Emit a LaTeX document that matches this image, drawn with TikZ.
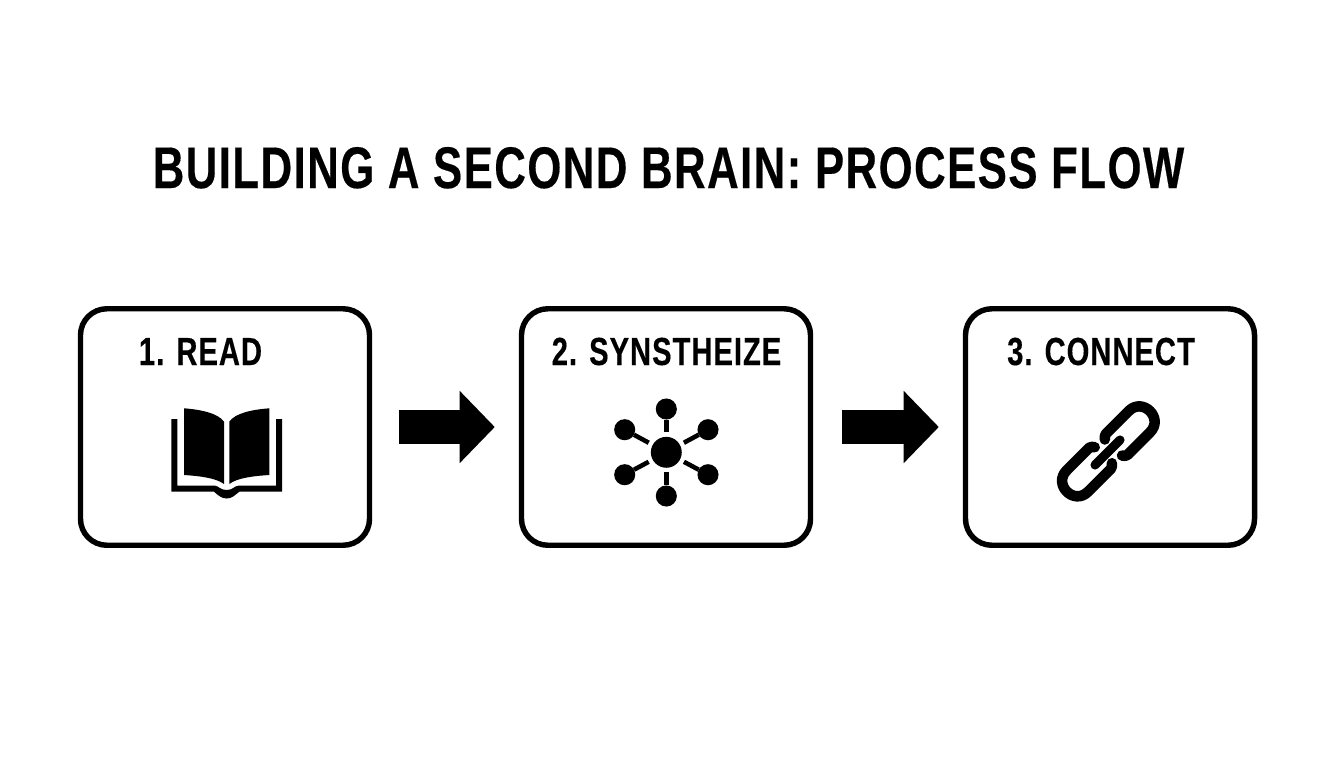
\documentclass[tikz,border=0pt]{standalone}
\usepackage{fontspec}
\setmainfont{Liberation Sans}[FakeStretch=0.745,LetterSpace=2.5,FakeBold=0.3]
\usetikzlibrary{arrows.meta}
\tikzset{
	% the three rounded frames
	stepbox/.style={draw=black,line width=3.1pt,rounded corners=15pt,outer sep=0pt,inner sep=0pt,
		minimum width=164.5pt,minimum height=134.6pt},
	steplabel/.style={anchor=base,inner sep=0pt,font=\bfseries\fontsize{22.3}{24}\selectfont},
	% block arrow between two frames
	flowarrow/.style={line width=19pt,-{Triangle[length=20pt,width=40pt]},shorten >=15.2pt},
	hubdot/.style={circle,fill=black,inner sep=0pt,outer sep=0pt,minimum size=#1},
	spoke/.style={line width=2.6pt,shorten <=2.6pt},
	chainlink/.style={line width=6pt,line cap=round,line join=round},
}
\begin{document}
\begin{tikzpicture}[x=0.02cm,y=-0.02cm]
	\useasboundingbox (0,0) rectangle (1344,768);
	\node[anchor=base,inner sep=0pt,font=\bfseries\fontsize{33.4}{36}\selectfont] (title) at (668.5,188) {BUILDING A SECOND BRAIN: PROCESS FLOW};
	
	\node[stepbox] (read) at (225,427) {};
	\node[stepbox] (synth) at (666,427) {};
	\node[stepbox] (connect) at (1110,427) {};
	\node[steplabel] (readlabel) at (200.5,365) {1. READ};
	\node[steplabel] (synthlabel) at (666.5,365) {2. SYNSTHEIZE};
	\node[steplabel] (connectlabel) at (1101,365) {3. CONNECT};
	
	\draw[flowarrow,shorten <=16.6pt] (read) -- (synth);
	\draw[flowarrow,shorten <=17.7pt] (synth) -- (connect);
	
	% book
	\fill (184,408.3) .. controls (200,409.5) and (218,413) .. (224,421.7) -- (224,484)
		.. controls (216,478) and (200,476) .. (184,475) -- cycle;
	\fill (269.3,408.3) .. controls (253,409.5) and (235,413) .. (229.3,421.7) -- (229.3,484)
		.. controls (237,478) and (253,476) .. (269.3,475) -- cycle;
	\fill (171.3,419) -- (177.3,419) -- (177.3,485.7) -- (215,485.7)
		.. controls (219,486) and (220,490) .. (226.7,490) .. controls (233,490) and (234,486) .. (238.3,485.7)
		-- (276,485.7) -- (276,419) -- (282,419) -- (282,491.7) -- (239.3,491.7)
		.. controls (235,495) and (232,498.5) .. (226.7,498.5) .. controls (221,498.5) and (218,495) .. (214,491.7)
		-- (171.3,491.7) -- cycle;
	
	% hub and its six dots
	\node[hubdot=17.6pt] (hub) at (666.3,452.3) {};
	\foreach \name/\xx/\yy in {top/666.3/409,upright/708/429.7,lowright/708/474.7,bottom/666.3/496,lowleft/624.7/474.7,upleft/624.7/429.7}{
		\node[hubdot=12pt] (\name) at (\xx,\yy) {};
		\draw[spoke] (hub) -- (\name);
	}
	
	% chain
	\draw[chainlink] (1104.8,439.5) .. controls (1104.5,437) and (1105,435) .. (1106,433.7) -- (1128.7,411)
		.. controls (1142.8,396.9) and (1164.1,418.2) .. (1150,432.3) -- (1127.3,455)
		.. controls (1126,456) and (1124,456) .. (1122,455.5);
	\draw[chainlink] (1111.9,463.2) .. controls (1112.2,465.7) and (1111.7,467.7) .. (1110.7,469) -- (1088,491.7)
		.. controls (1073.9,505.8) and (1052.6,484.4) .. (1066.7,470.3) -- (1089.3,447.7)
		.. controls (1090.7,446.7) and (1092.7,446.7) .. (1094.7,447.2);
	\draw[chainlink,line width=5.2pt] (1095,465) -- (1120,440);
\end{tikzpicture}
\end{document}
